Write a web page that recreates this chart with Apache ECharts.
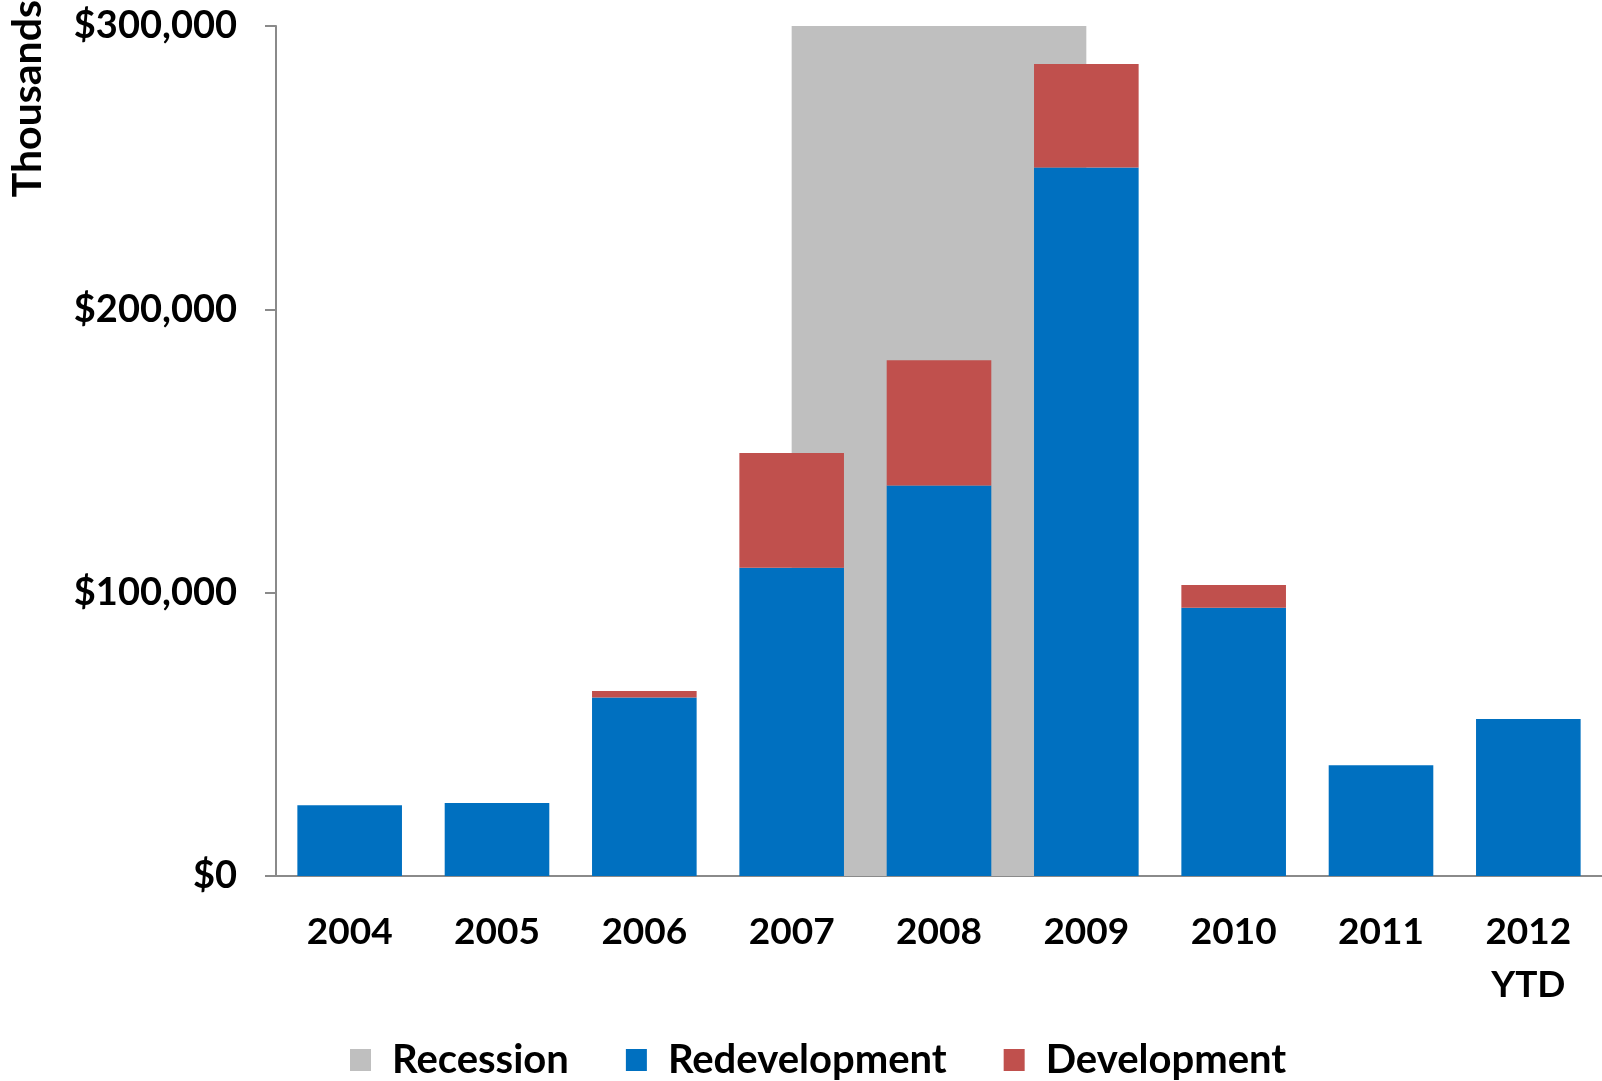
<!DOCTYPE html>
<html>
<head>
<meta charset="utf-8">
<script src="https://cdn.jsdelivr.net/npm/echarts@6/dist/echarts.min.js"></script>
<style>
  html, body { margin: 0; padding: 0; background: #fff; }
  #chart { width: 1602px; height: 1081px; }
</style>
</head>
<body>
<div id="chart"></div>
<script>
// Annual investment, in thousands of dollars
const years = ['2004', '2005', '2006', '2007', '2008', '2009', '2010', '2011', '2012\nYTD'];
const redevelopment = [25000, 25800, 63000, 108800, 137800, 250100, 94700, 39100, 55400];
const development = [0, 0, 2300, 40500, 44200, 36500, 8000, 0, 0];
// Recession band spans 2007 through 2009 at the top of the value axis
const recession = [null, null, null, 300000, 300000, 300000, null, null, null];
const yTicks = [0, 100000, 200000, 300000];

const FONT = 'Lato';
const chart = echarts.init(document.getElementById('chart'));

chart.setOption({
  animation: false,
  textStyle: { fontFamily: FONT, fontWeight: 'bold', color: '#000' },
  grid: { left: 276, right: 0, top: 26, bottom: 205, containLabel: false },
  legend: {
    top: 1035,
    left: 345,
    itemWidth: 21,
    itemHeight: 22,
    itemGap: 57,
    icon: 'rect',
    textStyle: { fontFamily: FONT, fontWeight: 'bold', fontSize: 40, color: '#000', padding: [0, 0, 0, 16] },
    data: ['Recession', 'Redevelopment', 'Development']
  },
  graphic: [{
    type: 'text',
    left: 7,
    top: 0,
    rotation: Math.PI / 2,
    style: {
      text: 'Thousands',
      font: 'bold 41px ' + FONT,
      fill: '#000'
    }
  }],
  xAxis: {
    type: 'category',
    data: years,
    boundaryGap: true,
    axisLine: { lineStyle: { color: '#8a8a8a', width: 2 } },
    axisTick: { show: false },
    axisLabel: {
      margin: 30,
      fontFamily: FONT,
      fontWeight: 'bold',
      fontSize: 37,
      color: '#000',
      lineHeight: 53
    }
  },
  yAxis: {
    type: 'value',
    min: 0,
    max: 300000,
    interval: 100000,
    splitLine: { show: false },
    axisLine: { show: true, lineStyle: { color: '#8a8a8a', width: 2 } },
    axisTick: { show: true, length: 11, lineStyle: { color: '#8a8a8a', width: 2 } },
    axisLabel: {
      margin: 39,
      fontFamily: FONT,
      fontWeight: 'bold',
      fontSize: 38,
      color: '#000',
      formatter: v => yTicks.includes(v) ? '$' + v.toLocaleString('en-US') : ''
    }
  },
  series: [
    {
      name: 'Recession',
      type: 'line',
      data: recession,
      symbol: 'none',
      lineStyle: { width: 0 },
      itemStyle: { color: '#bfbfbf' },
      areaStyle: { color: '#bfbfbf', opacity: 1 },
      z: 1
    },
    {
      name: 'Redevelopment',
      type: 'bar',
      stack: 'total',
      data: redevelopment,
      barCategoryGap: '29%',
      itemStyle: { color: '#0070c0' },
      z: 3
    },
    {
      name: 'Development',
      type: 'bar',
      stack: 'total',
      data: development,
      itemStyle: { color: '#c0504d' },
      z: 3
    }
  ]
});
</script>
</body>
</html>
